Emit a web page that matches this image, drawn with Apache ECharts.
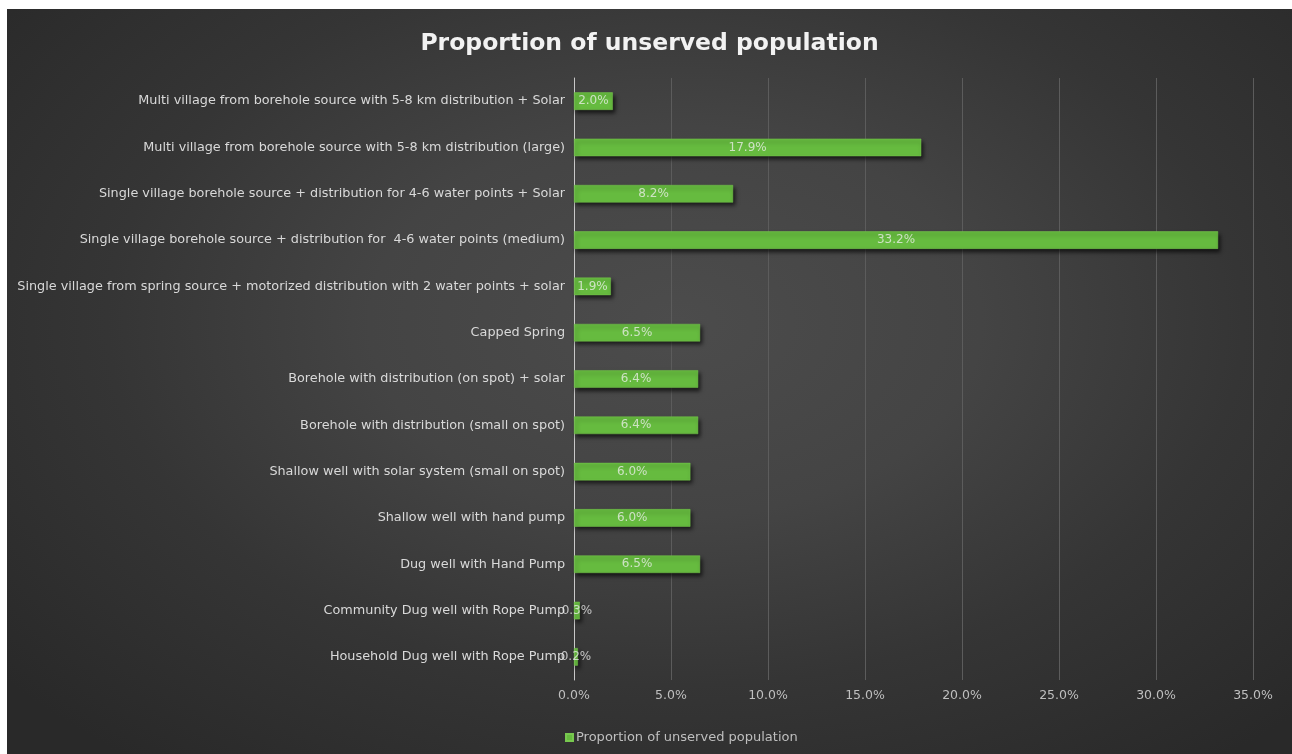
<!DOCTYPE html>
<html>
<head>
<meta charset="utf-8">
<script src="https://cdn.jsdelivr.net/npm/echarts@6/dist/echarts.min.js"></script>
<style>
  html, body { margin: 0; padding: 0; background: #ffffff; }
  #frame {
    position: absolute; left: 7px; top: 9px; width: 1285px; height: 745px;
    background: radial-gradient(ellipse 68% 75% at 52% 42%, #4c4c4c 0%, #444444 35%, #353535 65%, #292929 100%);
  }
  #chart { width: 1285px; height: 745px; }
</style>
</head>
<body>
<div id="frame"><div id="chart"></div></div>
<script>
// Water supply options, listed top to bottom
const categories = [
  'Multi village from borehole source with 5-8 km distribution + Solar',
  'Multi village from borehole source with 5-8 km distribution (large)',
  'Single village borehole source + distribution for 4-6 water points + Solar',
  'Single village borehole source + distribution for  4-6 water points (medium)',
  'Single village from spring source + motorized distribution with 2 water points + solar',
  'Capped Spring',
  'Borehole with distribution (on spot) + solar',
  'Borehole with distribution (small on spot)',
  'Shallow well with solar system (small on spot)',
  'Shallow well with hand pump',
  'Dug well with Hand Pump',
  'Community Dug well with Rope Pump',
  'Household Dug well with Rope Pump'
];
// Share of unserved population, in percent
const unservedShare = [2.0, 17.9, 8.2, 33.2, 1.9, 6.5, 6.4, 6.4, 6.0, 6.0, 6.5, 0.3, 0.2];
const seriesName = 'Proportion of unserved population';
const xTicks = { min: 0, max: 35, interval: 5 };

const FONT = 'DejaVu Sans';
const chart = echarts.init(document.getElementById('chart'), null, { renderer: 'canvas' });
const pct = v => Number(v).toFixed(1) + '%';

chart.setOption({
  backgroundColor: 'transparent',
  animation: false,
  title: {
    text: 'Proportion of unserved population',
    left: 'center',
    top: 18,
    textStyle: {
      color: '#f2f2f2',
      fontFamily: FONT,
      fontWeight: 'bold',
      fontSize: 23.5
    }
  },
  legend: {
    data: [seriesName],
    left: 553,
    top: 717,
    icon: 'rect',
    itemWidth: 7,
    itemHeight: 7,
    itemGap: 4,
    textStyle: { color: '#bfbfbf', fontFamily: FONT, fontSize: 13, padding: [0, 0, 0, -2] }
  },
  grid: { left: 567, right: 39, top: 69, bottom: 74, containLabel: false },
  xAxis: {
    type: 'value',
    min: xTicks.min,
    max: xTicks.max,
    interval: xTicks.interval,
    axisLine: { show: false },
    axisTick: { show: false },
    splitLine: { show: true, lineStyle: { color: '#5c5c5c', width: 1 } },
    axisLabel: {
      color: '#bfbfbf',
      fontFamily: FONT,
      fontSize: 12.5,
      margin: 9,
      formatter: pct
    }
  },
  yAxis: {
    type: 'category',
    data: categories,
    inverse: true,
    axisLine: { show: true, lineStyle: { color: '#c8c8c8', width: 1 } },
    axisTick: { show: false },
    axisLabel: {
      color: '#d9d9d9',
      fontFamily: FONT,
      fontSize: 12.8,
      margin: 9
    }
  },
  series: [{
    name: seriesName,
    type: 'bar',
    data: unservedShare,
    barCategoryGap: '62%',
    itemStyle: {
      color: '#66bb3f',
      borderColor: '#78c84f',
      borderWidth: 0.5,
      shadowColor: 'rgba(0,0,0,0.65)',
      shadowBlur: 4,
      shadowOffsetX: 2,
      shadowOffsetY: 3
    },
    label: {
      show: true,
      position: 'inside',
      color: 'rgba(240,240,240,0.75)',
      fontFamily: FONT,
      fontSize: 12,
      formatter: p => pct(p.value)
    }
  }]
});
</script>
</body>
</html>
